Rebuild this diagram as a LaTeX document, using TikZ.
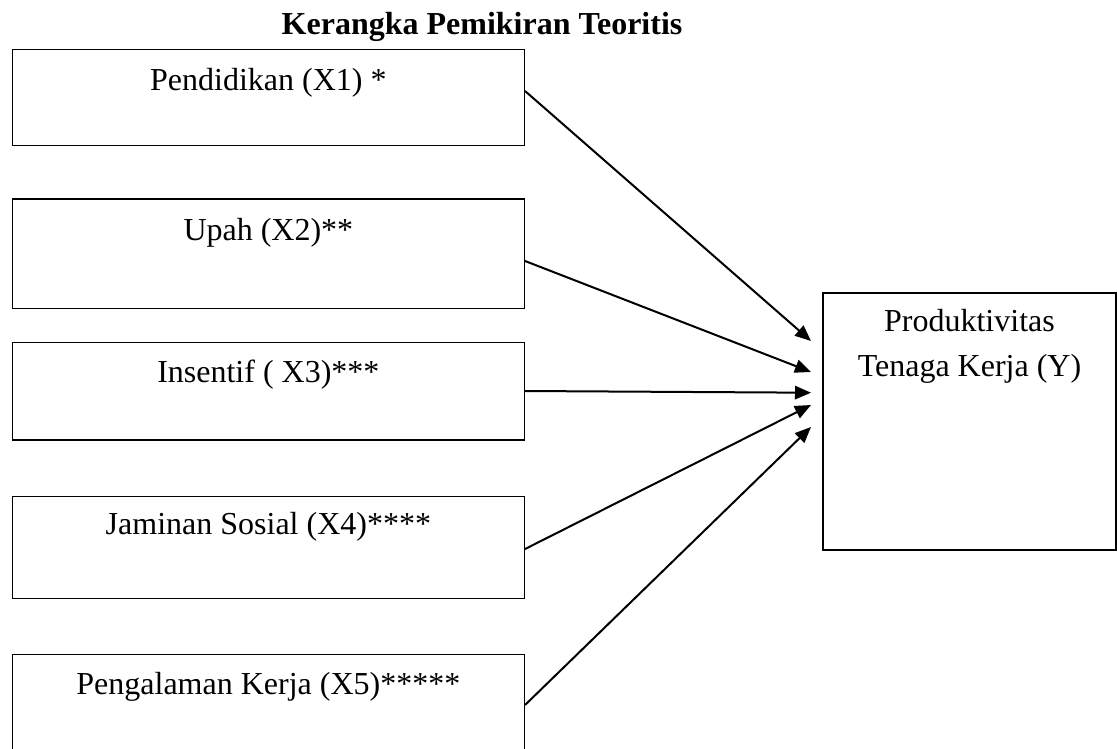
\documentclass[tikz,border=0pt]{standalone}
\usepackage{fontspec}
\setmainfont{Liberation Serif}
\usepackage{tikz}
\usetikzlibrary{arrows.meta}

\begin{document}
\begin{tikzpicture}[x=0.75pt, y=-0.75pt,
  >={Triangle[length=12pt,width=10pt]},
  varbox/.style={draw, line width=1pt, anchor=north west, minimum width=384pt, inner sep=0pt},
  vartext/.style={anchor=base, inner sep=0pt, font=\fontsize{24}{33.75}\selectfont},
  linkarrow/.style={->, line width=1.5pt}]
\useasboundingbox (0,0) rectangle (1117,749);
% title
\node[vartext] (title) at (482,35) {\bfseries Kerangka Pemikiran Teoritis};
% variable boxes
\node[varbox, minimum height=72.2pt] (b1) at (11.7,48.7) {};
\node[varbox, minimum height=82pt]   (b2) at (11.7,198.3) {};
\node[varbox, minimum height=73.2pt] (b3) at (11.7,341.7) {};
\node[varbox, minimum height=76.5pt] (b4) at (11.7,496) {};
\node[varbox, minimum height=80pt]   (b5) at (11.7,654) {};
\node[varbox, minimum width=219.75pt, minimum height=192.75pt] (y) at (822.3,292.3) {};
% labels
\node[vartext] (l1) at (b1.north |- 0,90)  {Pendidikan (X1) *};
\node[vartext] (l2) at (b2.north |- 0,240) {Upah (X2)**};
\node[vartext] (l3) at (b3.north |- 0,382) {Insentif ( X3)***};
\node[vartext] (l4) at (b4.north |- 0,534) {Jaminan Sosial (X4)****};
\node[vartext] (l5) at (b5.north |- 0,694) {Pengalaman Kerja (X5)*****};
\node[vartext, align=center] (ly) at (y.north |- 0,376) {Produktivitas\\Tenaga Kerja (Y)};
% arrows
\foreach \i/\sy/\ty in {1/91/341, 2/261/372, 3/391/392.7, 4/549/405, 5/705/427} {
  \coordinate (p\i) at (811,\ty);
  \draw[linkarrow] (b\i.east |- 0,\sy) -- (p\i);
}
\end{tikzpicture}
\end{document}
